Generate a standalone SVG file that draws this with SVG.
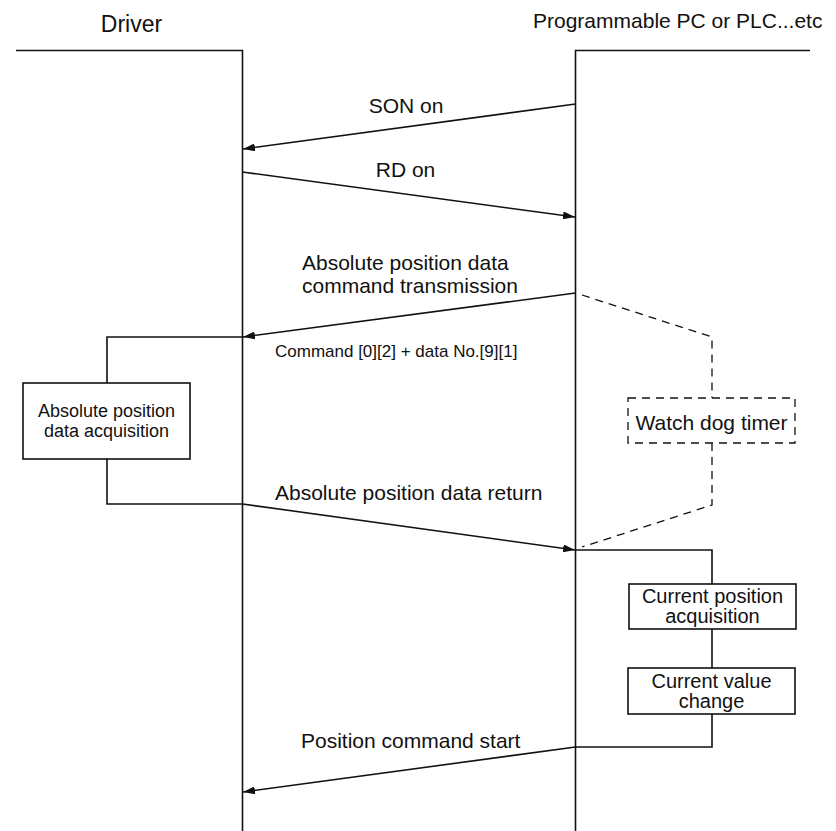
<svg xmlns="http://www.w3.org/2000/svg" width="836" height="831" viewBox="0 0 836 831">
<style>
text{font-family:"Liberation Sans",Arial,sans-serif;fill:#111;}
.t{font-size:21px;}
.c{font-size:20px;}
.s{font-size:17px;}
.b{font-size:18px;}
.ln{stroke:#111;stroke-width:1.6;fill:none;}
.box{stroke:#111;stroke-width:1.6;fill:#fff;}
.dash{stroke:#111;stroke-width:1.3;fill:none;stroke-dasharray:8,6;}
.dbox{stroke:#111;stroke-width:1.3;fill:#fff;stroke-dasharray:8,6;}
</style>
<defs>
<marker id="ah" viewBox="0 0 12 8" refX="12" refY="4" markerWidth="12" markerHeight="8" markerUnits="userSpaceOnUse" orient="auto">
<path d="M0,0 L12,4 L0,8 Z" fill="#111"/>
</marker>
</defs>
<g id="driver">
<text x="131.5" y="32" font-size="23" text-anchor="middle">Driver</text>
<path class="ln" d="M16,50.5 H242.5 V831"/>
</g>
<g id="plc">
<text x="533" y="28" font-size="21">Programmable PC or PLC...etc</text>
<path class="ln" d="M810,50.5 H575.5 V831"/>
</g>
<g id="abs-acq">
<path class="ln" d="M242.5,337 H107 V383"/>
<rect class="box" x="23" y="383" width="167" height="76"/>
<text class="b" x="106.5" y="417" text-anchor="middle">Absolute position</text>
<text class="b" x="106.5" y="437" text-anchor="middle">data acquisition</text>
<path class="ln" d="M107,459 V504 H242.5"/>
</g>
<g id="watchdog">
<path class="dash" d="M582,295 L712,337 V398"/>
<rect class="dbox" x="628" y="398" width="167" height="45"/>
<text class="t" x="711.5" y="430" text-anchor="middle">Watch dog timer</text>
<path class="dash" d="M712,443 V505 L582,547"/>
</g>
<g id="cur-pos">
<path class="ln" d="M575.5,550 H712 V584"/>
<rect class="box" x="629" y="584" width="167" height="45"/>
<text class="c" x="712.5" y="603" text-anchor="middle">Current position</text>
<text class="c" x="712.5" y="623" text-anchor="middle">acquisition</text>
</g>
<g id="cur-val">
<path class="ln" d="M712,629 V668"/>
<rect class="box" x="628" y="668" width="167" height="46"/>
<text class="c" x="711.5" y="688" text-anchor="middle">Current value</text>
<text class="c" x="711.5" y="708" text-anchor="middle">change</text>
<path class="ln" d="M712,714 V747 H575.5"/>
</g>
<g id="connectors">
<line class="ln" x1="575.5" y1="104" x2="243" y2="149" marker-end="url(#ah)"/>
<text class="t" x="406" y="113" text-anchor="middle">SON on</text>
<line class="ln" x1="242.5" y1="172" x2="575" y2="217" marker-end="url(#ah)"/>
<text class="t" x="405.5" y="177" text-anchor="middle">RD on</text>
<line class="ln" x1="575.5" y1="293" x2="243" y2="337" marker-end="url(#ah)"/>
<text class="t" x="302" y="270">Absolute position data</text>
<text class="t" x="302" y="293">command transmission</text>
<text class="s" x="275" y="357">Command [0][2] + data No.[9][1]</text>
<line class="ln" x1="242.5" y1="504" x2="575" y2="550" marker-end="url(#ah)"/>
<text class="t" x="275" y="500">Absolute position data return</text>
<line class="ln" x1="575.5" y1="747" x2="243" y2="792" marker-end="url(#ah)"/>
<text class="t" x="301" y="748">Position command start</text>
</g>
</svg>
